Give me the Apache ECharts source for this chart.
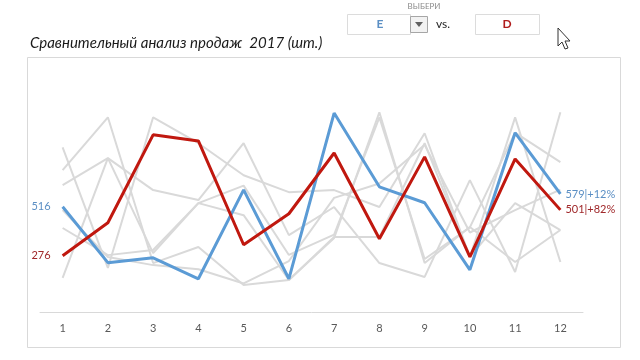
<!DOCTYPE html>
<html>
<head>
<meta charset="utf-8">
<script src="https://cdn.jsdelivr.net/npm/echarts@6/dist/echarts.min.js"></script>
<style>
  html, body { margin: 0; padding: 0; background: #fff; }
  #main { width: 640px; height: 360px; }
</style>
</head>
<body>
<div id="main"></div>
<script>
// months on x axis
var months = ['1', '2', '3', '4', '5', '6', '7', '8', '9', '10', '11', '12'];

// selected pair
var seriesE = [516, 242, 266, 163, 599, 163, 976, 614, 536, 207, 879, 579];
var seriesD = [276, 438, 869, 839, 330, 482, 780, 359, 761, 271, 751, 501];
var labelE = '579|+12%';
var labelD = '501|+82%';

// the other products, drawn in grey
var seriesA = [696, 955, 240, 319, 132, 157, 363, 980, 240, 417, 245, 402];
var seriesB = [808, 216, 955, 828, 671, 588, 598, 515, 877, 270, 955, 245];
var seriesC = [622, 755, 598, 549, 828, 377, 515, 240, 172, 647, 196, 980];
var seriesF = [412, 279, 304, 534, 475, 157, 368, 368, 828, 270, 534, 402];
var seriesG = [167, 755, 289, 534, 620, 280, 380, 955, 260, 415, 880, 735];
var seriesH = [500, 270, 230, 210, 140, 250, 560, 630, 820, 390, 500, 600];

var greys = [seriesA, seriesB, seriesC, seriesF, seriesG, seriesH];

var chart = echarts.init(document.getElementById('main'));

// first and last points carry the value labels
function withEndLabels(values, color, lastText) {
    return values.map(function (v, i) {
        if (i === 0) {
            return { value: v, label: { show: true, position: 'left', distance: 12, formatter: String(v), color: color } };
        }
        if (i === values.length - 1) {
            return { value: v, label: { show: true, position: 'right', distance: 5, formatter: lastText, color: color } };
        }
        return v;
    });
}

var series = greys.map(function (g) {
    return {
        type: 'line',
        data: g,
        symbol: 'none',
        lineStyle: { color: '#d9d9d9', width: 2 },
        silent: true,
        z: 1
    };
});

series.push({
    name: 'E',
    type: 'line',
    data: withEndLabels(seriesE, '#5b8fc4', labelE),
    symbol: 'circle',
    symbolSize: 0,
    showSymbol: true,
    showAllSymbol: true,
    lineStyle: { color: '#5b9bd5', width: 3 },
    label: { show: false, fontSize: 11, fontFamily: 'Lato' },
    z: 3
});
series.push({
    name: 'D',
    type: 'line',
    data: withEndLabels(seriesD, '#a0282a', labelD),
    symbol: 'circle',
    symbolSize: 0,
    showSymbol: true,
    showAllSymbol: true,
    lineStyle: { color: '#c0180f', width: 3 },
    label: { show: false, fontSize: 11, fontFamily: 'Lato' },
    z: 4
});

var option = {
    backgroundColor: '#ffffff',
    animation: false,
    grid: { left: 40, right: 57, top: 100, bottom: 48 },
    xAxis: {
        type: 'category',
        data: months,
        boundaryGap: true,
        axisLine: { lineStyle: { color: '#d9d9d9', width: 1 } },
        axisTick: { show: false },
        axisLabel: { color: '#595959', fontSize: 11, fontFamily: 'Lato', margin: 11 }
    },
    yAxis: {
        type: 'value',
        min: 0,
        max: 1040,
        show: false,
        splitLine: { show: false }
    },
    graphic: [
        // plot frame
        { type: 'rect', shape: { x: 27.5, y: 57.5, width: 593, height: 290 },
          style: { fill: 'none', stroke: '#d9d9d9', lineWidth: 1 }, z: -1 },
        { type: 'text', left: 30, top: 36,
          style: { text: 'Сравнительный анализ продаж  2017 (шт.)', font: 'italic 15px Lato', fill: '#1a1a1a' } },
        // selector
        { type: 'text', x: 424, y: 2,
          style: { text: 'ВЫБЕРИ', font: '8px Lato', fill: '#8c8c8c', textAlign: 'center' } },
        { type: 'rect', shape: { x: 347.5, y: 14.5, width: 63, height: 20 },
          style: { fill: '#fff', stroke: '#dcdcdc', lineWidth: 1 } },
        { type: 'rect', shape: { x: 410.5, y: 16.5, width: 17, height: 16 },
          style: { fill: '#f2f2f2', stroke: '#a6a6a6', lineWidth: 1 } },
        { type: 'polygon', shape: { points: [[415, 22], [423, 22], [419, 27]] },
          style: { fill: '#606060' } },
        { type: 'text', x: 380, y: 18,
          style: { text: 'E', font: 'bold 12px Lato', fill: '#5b8fc4', textAlign: 'center' } },
        { type: 'text', x: 443, y: 18,
          style: { text: 'vs.', font: '12px Lato', fill: '#262626', textAlign: 'center' } },
        { type: 'rect', shape: { x: 475.5, y: 14.5, width: 64, height: 20 },
          style: { fill: '#fff', stroke: '#dcdcdc', lineWidth: 1 } },
        { type: 'text', x: 507, y: 18,
          style: { text: 'D', font: 'bold 12px Lato', fill: '#b01c1c', textAlign: 'center' } },
        // mouse pointer
        { type: 'polygon', x: 558, y: 28,
          shape: { points: [[0, 0], [0, 18], [4, 14], [7, 21], [10, 20], [7, 13], [12, 13]] },
          style: { fill: '#fff', stroke: '#333', lineWidth: 1 } }
    ],
    series: series
};

chart.setOption(option);
</script>
</body>
</html>
